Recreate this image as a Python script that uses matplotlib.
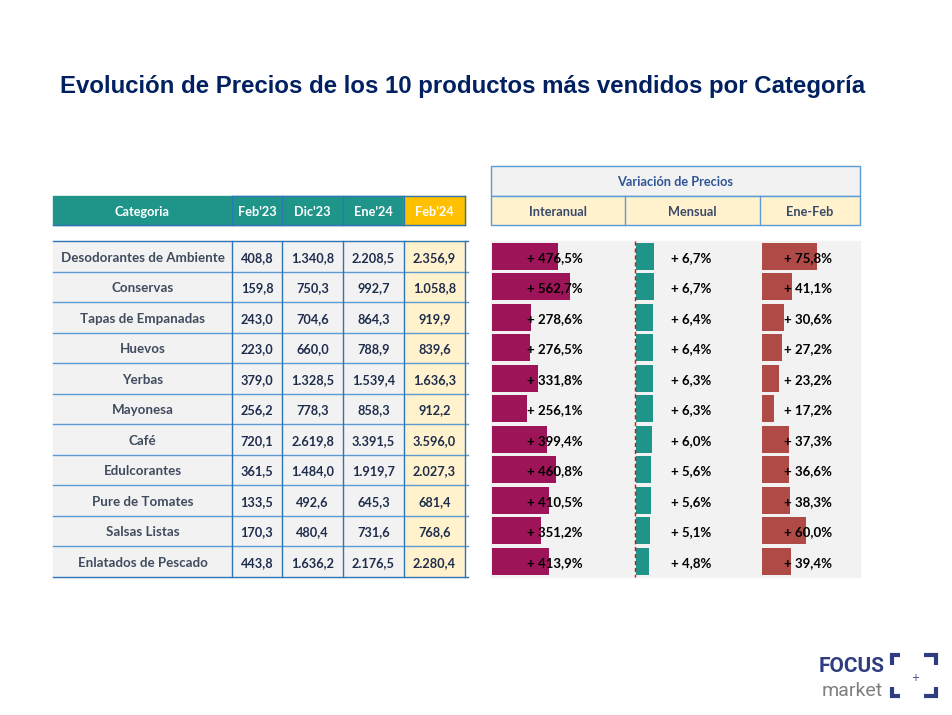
import matplotlib.pyplot as plt
from matplotlib.patches import Rectangle

W, H = 953, 715

categorias = ['Desodorantes de Ambiente', 'Conservas', 'Tapas de Empanadas', 'Huevos',
              'Yerbas', 'Mayonesa', 'Café', 'Edulcorantes', 'Pure de Tomates',
              'Salsas Listas', 'Enlatados de Pescado']
meses = ["Feb'23", "Dic'23", "Ene'24", "Feb'24"]
feb23 = [408.8, 159.8, 243.0, 223.0, 379.0, 256.2, 720.1, 361.5, 133.5, 170.3, 443.8]
dic23 = [1340.8, 750.3, 704.6, 660.0, 1328.5, 778.3, 2619.8, 1484.0, 492.6, 480.4, 1636.2]
ene24 = [2208.5, 992.7, 864.3, 788.9, 1539.4, 858.3, 3391.5, 1919.7, 645.3, 731.6, 2176.5]
feb24 = [2356.9, 1058.8, 919.9, 839.6, 1636.3, 912.2, 3596.0, 2027.3, 681.4, 768.6, 2280.4]
variaciones = ['Interanual', 'Mensual', 'Ene-Feb']
interanual = [476.5, 562.7, 278.6, 276.5, 331.8, 256.1, 399.4, 460.8, 410.5, 351.2, 413.9]
mensual = [6.7, 6.7, 6.4, 6.4, 6.3, 6.3, 6.0, 5.6, 5.6, 5.1, 4.8]
ene_feb = [75.8, 41.1, 30.6, 27.2, 23.2, 17.2, 37.3, 36.6, 38.3, 60.0, 39.4]

TEAL = '#1F958A'
GOLD = '#FFC000'
CREAM = '#FFF2CC'
GREY = '#F2F2F2'
BLUE = '#2E75B6'
LBLUE = '#5B9BD5'
NAVY = '#1F2D4D'
FONT = 'Lato'
DY = 1.5  # small vertical nudge so text sits centred like the original


def fmt_num(v):
    s = f'{v:,.1f}'
    return s.replace(',', 'X').replace('.', ',').replace('X', '.')


def fmt_pct(v):
    return '+ ' + f'{v:.1f}'.replace('.', ',') + '%'


def px_axes(fig, x0, y0, x1, y1):
    return fig.add_axes([x0 / W, 1 - y1 / H, (x1 - x0) / W, (y1 - y0) / H])


fig = plt.figure(figsize=(W / 100, H / 100), dpi=100)
ax = fig.add_axes([0, 0, 1, 1])
ax.set_xlim(0, W)
ax.set_ylim(H, 0)
ax.axis('off')

ax.text(60, 87, 'Evolución de Precios de los 10 productos más vendidos por Categoría',
        fontsize=17.3, fontweight='bold', color='#002060', family='Liberation Sans',
        ha='left', va='center')

# ---- left table ----
n = len(categorias)
top, row_h = 241, 30.5
bottom = top + n * row_h
col_x = [53, 232, 282, 343, 404, 465]

# header
ax.add_patch(Rectangle((53, 196), 404 - 53, 29, color=TEAL, zorder=1))
ax.add_patch(Rectangle((404, 196), 61, 29, color=GOLD, zorder=1))
ax.plot([232, 465], [196, 196], color=BLUE, lw=1, zorder=2)
ax.plot([53, 465], [225, 225], color=BLUE, lw=1, zorder=2)
for x in col_x[1:]:
    ax.plot([x, x], [196, 225], color=BLUE, lw=1, zorder=2)
heads = ['Categoria'] + meses
for i, h in enumerate(heads):
    ax.text((col_x[i] + col_x[i + 1]) / 2, 211 + DY, h, fontsize=9.2, fontweight='bold',
            color='white', family=FONT, ha='center', va='center', zorder=3)

# body
ax.add_patch(Rectangle((53, top), 404 - 53, bottom - top, color=GREY, zorder=1))
ax.add_patch(Rectangle((404, top), 61, bottom - top, color=CREAM, zorder=1))
for r in range(n + 1):
    y = top + r * row_h
    ax.plot([53, 468], [y, y], color=BLUE if r in (0, n) else LBLUE, lw=1, zorder=2)
for x in col_x[1:]:
    ax.plot([x, x], [top, bottom], color=BLUE, lw=1, zorder=2)
cols = [feb23, dic23, ene24, feb24]
for r, cat in enumerate(categorias):
    yc = top + (r + 0.5) * row_h + DY
    ax.text((col_x[0] + col_x[1]) / 2, yc, cat, fontsize=9.6, fontweight='bold',
            color='#404B5E', family=FONT, ha='center', va='center', zorder=3)
    for c, vals in enumerate(cols):
        ax.text((col_x[c + 1] + col_x[c + 2]) / 2, yc, fmt_num(vals[r]), fontsize=9.2,
                fontweight='bold', color=NAVY, family=FONT, ha='center', va='center',
                zorder=3)

# ---- right block ----
ax.add_patch(Rectangle((491, 166), 369, 30, facecolor=GREY, edgecolor=LBLUE, lw=1, zorder=1))
ax.add_patch(Rectangle((491, 196), 369, 29, facecolor=CREAM, edgecolor=LBLUE, lw=1, zorder=1))
for x in (625, 760):
    ax.plot([x, x], [196, 225], color=LBLUE, lw=1, zorder=2)
ax.text(675.5, 181 + DY, 'Variación de Precios', fontsize=9.2, fontweight='bold',
        color='#2F5597', family=FONT, ha='center', va='center')
for xc, lab in zip((558, 692.5, 810), variaciones):
    ax.text(xc, 211 + DY, lab, fontsize=9.2, fontweight='bold', color='#3B4A6B',
            family=FONT, ha='center', va='center')
ax.add_patch(Rectangle((491, top), 369, bottom - top, color=GREY, zorder=0))

# bar panels: (left px, right px, xmax in %, values, colour, label right edge px)
paneles = [
    (492, 625, 960, interanual, '#9E1458', 583),
    (636, 760, 45.9, mensual, TEAL, 711),
    (762, 860, 135, ene_feb, '#B04A47', 832),
]
for x0, x1, xmax, vals, color, lab_x in paneles:
    bax = px_axes(fig, x0, top, x1, bottom)
    bax.set_xlim(0, xmax)
    bax.set_ylim(n, 0)
    bax.axis('off')
    bax.patch.set_alpha(0)
    ypos = [i + 0.5 for i in range(n)]
    bax.barh(ypos, vals, height=0.88, left=0, color=color, zorder=1)
    for r, v in enumerate(vals):
        bax.text(lab_x, top + (r + 0.5) * row_h + DY, fmt_pct(v), fontsize=9.5,
                 fontweight='bold', color='black', family=FONT, ha='right', va='center',
                 transform=ax.transData, clip_on=False, zorder=5)
    if x0 == 636:
        bax.plot([-1 / 2.7, -1 / 2.7], [0, n], color='red', lw=1, ls=(0, (3, 2)),
                 clip_on=False, zorder=4)

# ---- logo ----
ax.text(852, 667, 'FOCUS', fontsize=15, fontweight='bold', color='#2E3D80',
        family='Roboto', ha='center', va='center')
ax.text(852, 691, 'market', fontsize=14, color='#7F7F7F', family='Roboto',
        ha='center', va='center')
lc = '#2E3D80'
for xs, ys in [([900, 892, 892], [655, 655, 665]), ([924, 936, 936], [655, 655, 665]),
               ([892, 892, 900], [687, 696, 696]), ([936, 936, 924], [687, 696, 696])]:
    ax.plot(xs, ys, color=lc, lw=3, solid_capstyle='butt', solid_joinstyle='miter')
ax.text(915, 678, '+', fontsize=7, color=lc, ha='center', va='center')

fig.savefig('out.png', dpi=100)
